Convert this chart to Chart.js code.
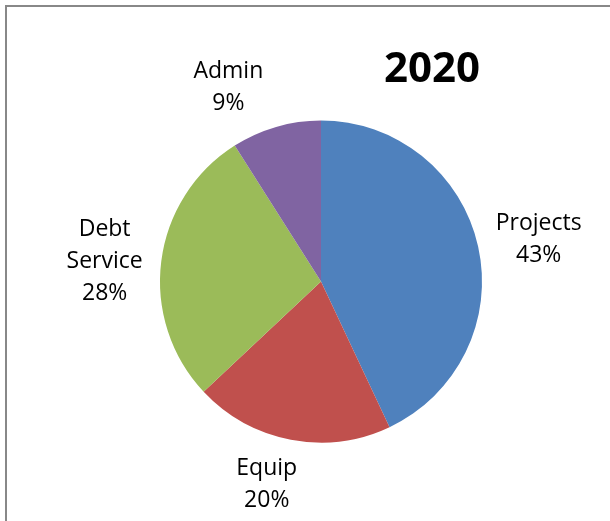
<!DOCTYPE html>
<html>
<head>
<meta charset="utf-8">
<script src="https://cdn.jsdelivr.net/npm/chart.js"></script>
<style>
  html, body { margin: 0; padding: 0; background: #fff; overflow: hidden; }
  #frame { position: absolute; left: 5px; top: 5px; width: 700px; height: 600px;
           border-left: 2px solid #888; border-top: 2px solid #888; }
  #wrap { position: absolute; left: 0; top: 0; width: 610px; height: 521px; }
</style>
</head>
<body>
<div id="frame"></div>
<div id="wrap"><canvas id="pie" width="610" height="521"></canvas></div>
<script>
const title = '2020';
const categories = ['Projects', 'Equip', 'Debt Service', 'Admin'];
const labelLines = [['Projects'], ['Equip'], ['Debt', 'Service'], ['Admin']];
const shares = [43, 20, 28, 9];

const BLUE = '#4F81BD';
const RED = '#C0504D';
const GREEN = '#9BBB59';
const PURPLE = '#8064A2';

const FONT = '"Open Sans", sans-serif';

// labels outside the slices, placed like Excel's best-fit
const outsideLabels = {
  id: 'outsideLabels',
  afterDatasetsDraw(chart, args, opts) {
    const ctx = chart.ctx;
    const meta = chart.getDatasetMeta(0);
    ctx.save();
    ctx.font = '23px ' + FONT;
    ctx.fillStyle = '#000';
    ctx.textAlign = 'center';
    ctx.textBaseline = 'middle';
    meta.data.forEach((arc, i) => {
      const lines = labelLines[i].concat([shares[i] + '%']);
      const mid = (arc.startAngle + arc.endAngle) / 2;
      const dx = Math.cos(mid), dy = Math.sin(mid);
      const w = Math.max(...lines.map(l => ctx.measureText(l).width));
      const h = lines.length * opts.lineHeight;
      const d = arc.outerRadius + opts.gap;
      const nudge = opts.nudge[i];
      const cx = arc.x + dx * d + dx * w / 2 + nudge[0];
      const cy = arc.y + dy * d + dy * h / 2 + nudge[1];
      lines.forEach((l, k) => {
        ctx.fillText(l, cx, cy + (k - (lines.length - 1) / 2) * opts.lineHeight);
      });
    });
    ctx.font = 'bold 42px ' + FONT;
    ctx.fillText(title, opts.titleX, opts.titleY);
    ctx.restore();
  }
};

new Chart(document.getElementById('pie'), {
  type: 'pie',
  data: {
    labels: categories,
    datasets: [{
      data: shares,
      backgroundColor: [BLUE, RED, GREEN, PURPLE],
      borderWidth: 0
    }]
  },
  options: {
    responsive: false,
    animation: false,
    devicePixelRatio: 1,
    layout: { padding: { left: 160, right: 128, top: 120, bottom: 78 } },
    plugins: {
      legend: { display: false },
      tooltip: { enabled: false },
      outsideLabels: {
        gap: 18,
        lineHeight: 32,
        nudge: [[1, 4], [-15, -4], [-1, 8], [-33, 9]],
        titleX: 432,
        titleY: 70
      }
    }
  },
  plugins: [outsideLabels]
});
</script>
</body>
</html>
